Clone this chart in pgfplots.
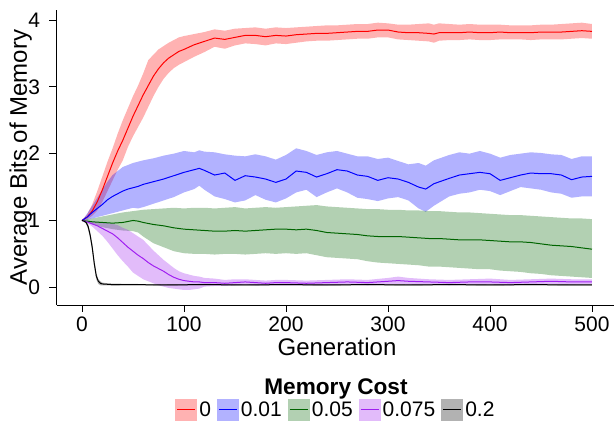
\documentclass[border=0pt]{standalone}
\usepackage{fontspec}
\setmainfont{Liberation Sans}
\usepackage{pgfplots}
\usepackage{pgfplotstable}
\pgfplotsset{compat=1.18}
\usepgfplotslibrary{fillbetween}

\definecolor{cRed}{RGB}{255,0,0}
\definecolor{cBlue}{RGB}{0,0,255}
\definecolor{cGreen}{RGB}{0,100,0}
\definecolor{cPurple}{RGB}{160,32,240}

% memory cost 0
\pgfplotstableread{
x m u l
0 1.00 1.00 1.00
5 1.05 1.09 1.02
10 1.14 1.24 1.07
15 1.28 1.44 1.15
20 1.46 1.66 1.28
25 1.66 1.88 1.44
30 1.86 2.08 1.60
35 2.04 2.30 1.76
40 2.20 2.50 1.90
45 2.38 2.68 2.10
50 2.56 2.86 2.26
55 2.72 3.02 2.40
60 2.88 3.20 2.54
65 3.02 3.40 2.70
70 3.16 3.48 2.86
75 3.27 3.56 3.00
80 3.36 3.61 3.12
85 3.43 3.66 3.21
90 3.48 3.70 3.28
95 3.53 3.74 3.33
100 3.56 3.76 3.37
110 3.63 3.79 3.45
120 3.68 3.82 3.52
130 3.73 3.86 3.60
140 3.71 3.84 3.57
150 3.74 3.87 3.62
160 3.77 3.88 3.65
170 3.77 3.89 3.64
180 3.75 3.87 3.62
190 3.77 3.89 3.65
200 3.76 3.88 3.64
210 3.78 3.89 3.66
220 3.79 3.90 3.68
230 3.80 3.91 3.69
240 3.80 3.92 3.69
250 3.81 3.92 3.70
260 3.82 3.93 3.71
270 3.83 3.94 3.72
280 3.83 3.94 3.72
290 3.85 3.96 3.74
300 3.85 3.95 3.74
310 3.82 3.93 3.71
320 3.81 3.93 3.70
330 3.81 3.94 3.69
340 3.80 3.95 3.68
345 3.79 3.93 3.66
350 3.81 3.95 3.69
360 3.81 3.94 3.70
370 3.81 3.93 3.70
380 3.82 3.94 3.71
390 3.81 3.93 3.70
400 3.81 3.93 3.70
410 3.82 3.93 3.71
420 3.81 3.92 3.71
430 3.81 3.92 3.71
440 3.81 3.92 3.70
450 3.82 3.93 3.71
460 3.82 3.93 3.71
470 3.82 3.94 3.71
480 3.83 3.95 3.72
490 3.84 3.96 3.73
500 3.83 3.94 3.72
}\tA

% memory cost 0.01
\pgfplotstableread{
x m u l
0 1.00 1.00 1.00
5 1.05 1.10 1.01
10 1.12 1.22 1.03
15 1.18 1.34 1.05
20 1.24 1.46 1.07
25 1.31 1.58 1.09
30 1.36 1.68 1.11
35 1.40 1.74 1.13
40 1.44 1.80 1.15
45 1.47 1.83 1.17
50 1.49 1.86 1.19
55 1.51 1.88 1.18
60 1.54 1.90 1.20
70 1.58 1.93 1.25
80 1.62 1.97 1.30
90 1.67 2.00 1.35
100 1.72 2.04 1.42
110 1.76 2.02 1.47
115 1.78 2.05 1.52
120 1.75 2.03 1.46
130 1.68 2.02 1.36
140 1.71 1.99 1.32
150 1.60 1.97 1.27
160 1.67 1.96 1.30
170 1.65 1.99 1.38
180 1.62 1.96 1.31
190 1.57 1.91 1.27
200 1.62 1.98 1.33
210 1.74 2.08 1.42
220 1.72 2.04 1.46
230 1.65 1.98 1.35
240 1.70 2.02 1.42
250 1.76 2.04 1.48
260 1.74 2.00 1.42
270 1.68 1.96 1.34
280 1.66 1.96 1.32
290 1.60 1.92 1.29
300 1.64 1.94 1.33
310 1.62 1.89 1.35
320 1.57 1.84 1.30
330 1.50 1.86 1.18
337 1.47 1.82 1.13
345 1.55 1.90 1.22
360 1.63 1.98 1.36
370 1.68 2.02 1.40
380 1.70 2.00 1.42
390 1.72 2.04 1.46
400 1.70 2.00 1.44
410 1.60 1.94 1.38
420 1.64 1.98 1.44
430 1.68 2.00 1.50
440 1.71 2.02 1.48
450 1.70 2.01 1.46
460 1.70 1.99 1.42
470 1.68 1.98 1.40
480 1.61 1.92 1.34
490 1.65 1.96 1.36
500 1.66 1.96 1.36
}\tB

% memory cost 0.05
\pgfplotstableread{
x m u l
0 1.00 1.00 1.00
5 0.99 1.02 0.97
10 0.98 1.03 0.94
20 0.97 1.06 0.90
30 0.96 1.09 0.87
40 0.97 1.12 0.85
50 1.00 1.14 0.84
55 0.99 1.15 0.82
60 0.97 1.16 0.76
70 0.94 1.17 0.66
80 0.92 1.18 0.60
90 0.89 1.19 0.54
100 0.87 1.18 0.51
110 0.86 1.19 0.50
120 0.85 1.19 0.50
130 0.84 1.18 0.49
140 0.84 1.19 0.50
150 0.85 1.20 0.50
160 0.84 1.18 0.49
170 0.85 1.19 0.50
180 0.86 1.20 0.51
190 0.87 1.19 0.50
200 0.87 1.20 0.51
210 0.86 1.21 0.50
220 0.87 1.22 0.51
230 0.85 1.23 0.48
240 0.82 1.21 0.45
250 0.81 1.20 0.44
260 0.80 1.19 0.43
270 0.79 1.18 0.42
280 0.77 1.17 0.39
290 0.76 1.17 0.37
300 0.76 1.16 0.36
310 0.76 1.16 0.35
320 0.75 1.15 0.34
330 0.74 1.15 0.33
340 0.73 1.14 0.31
350 0.73 1.14 0.31
360 0.72 1.13 0.30
370 0.71 1.12 0.29
380 0.71 1.12 0.28
390 0.71 1.11 0.27
400 0.70 1.10 0.27
410 0.69 1.09 0.25
420 0.68 1.08 0.24
430 0.68 1.08 0.23
440 0.67 1.07 0.21
450 0.65 1.06 0.20
460 0.63 1.05 0.18
470 0.62 1.04 0.17
480 0.61 1.03 0.16
490 0.59 1.03 0.15
500 0.57 1.02 0.14
}\tC

% memory cost 0.075
\pgfplotstableread{
x m u l
0 1.00 1.00 1.00
5 0.98 1.00 0.96
10 0.95 0.99 0.91
15 0.92 0.98 0.84
20 0.88 0.97 0.77
25 0.84 0.96 0.68
30 0.80 0.95 0.58
35 0.74 0.93 0.48
40 0.67 0.89 0.39
45 0.60 0.86 0.31
50 0.54 0.81 0.22
55 0.48 0.76 0.17
60 0.43 0.71 0.12
65 0.37 0.63 0.09
70 0.32 0.55 0.06
75 0.28 0.48 0.03
80 0.24 0.41 0.01
85 0.19 0.35 -0.01
90 0.15 0.29 -0.02
95 0.12 0.24 -0.03
100 0.10 0.21 -0.04
105 0.09 0.19 -0.04
110 0.08 0.17 -0.03
115 0.08 0.16 -0.02
120 0.07 0.14 0.01
130 0.07 0.13 0.02
140 0.06 0.11 0.02
150 0.07 0.12 0.03
160 0.08 0.12 0.04
170 0.07 0.11 0.03
180 0.06 0.10 0.03
190 0.07 0.11 0.03
200 0.07 0.11 0.03
220 0.06 0.10 0.03
240 0.07 0.11 0.03
260 0.08 0.12 0.04
280 0.07 0.11 0.03
300 0.09 0.14 0.04
310 0.10 0.16 0.05
320 0.09 0.14 0.04
340 0.08 0.12 0.04
360 0.07 0.11 0.03
380 0.08 0.12 0.04
400 0.08 0.13 0.04
420 0.07 0.11 0.03
440 0.08 0.12 0.04
460 0.09 0.13 0.05
480 0.08 0.12 0.04
500 0.08 0.12 0.05
}\tD

% memory cost 0.2
\pgfplotstableread{
x m u l
0 1.00 1.00 1.00
2 0.99 1.00 0.98
4 0.97 0.99 0.95
6 0.91 0.95 0.87
8 0.78 0.83 0.73
10 0.60 0.66 0.54
12 0.36 0.42 0.30
14 0.17 0.22 0.12
16 0.09 0.12 0.05
18 0.06 0.09 0.03
20 0.05 0.07 0.03
25 0.045 0.06 0.03
30 0.04 0.055 0.025
50 0.04 0.05 0.03
80 0.035 0.045 0.025
120 0.04 0.05 0.03
160 0.035 0.045 0.025
200 0.04 0.05 0.03
240 0.035 0.045 0.025
280 0.04 0.05 0.03
320 0.035 0.045 0.025
360 0.04 0.05 0.03
400 0.035 0.045 0.025
440 0.04 0.05 0.03
480 0.035 0.045 0.025
500 0.035 0.045 0.025
}\tE

\begin{document}
\begin{tikzpicture}
\begin{axis}[
  name=ax, at={(56.5pt,117pt)}, anchor=south west,
  width=561pt, height=295pt, scale only axis,
  xmin=-25, xmax=525, ymin=-0.265, ymax=4.15,
  xtick={0,100,...,500}, ytick={0,1,2,3,4},
  axis lines*=left, axis line style={line width=0.9pt},
  tick align=outside, major tick length=7pt,
  tick style={line width=0.9pt, black},
  /pgf/number format/assume math mode=true,
  ticklabel style={font=\fontsize{21}{25}\selectfont},
  xticklabel style={anchor=north, yshift=-1pt},
  yticklabel style={anchor=east, xshift=-6pt},
  label style={font=\fontsize{24}{29}\selectfont},
  xlabel={Generation}, ylabel={Average Bits of Memory},
  xlabel style={at={(axis description cs:0.5,-0.11)}, anchor=north, inner sep=0pt},
  ylabel style={at={(axis description cs:-0.064,0.5)}, anchor=center, inner sep=0pt},
  legend columns=5,
  legend style={at={(axis description cs:0.498,-0.355)}, anchor=center, draw=none,
    font=\fontsize{21}{25}\selectfont, inner sep=0pt,
    /tikz/every even column/.append style={column sep=4pt},
    nodes={inner xsep=2pt, inner ysep=0pt}},
  legend image code/.code={
    \fill[#1, fill opacity=0.3, draw=none] (0pt,-11pt) rectangle (22pt,11pt);
    \draw[#1] (2pt,0pt) -- (20pt,0pt);},
  every axis plot/.append style={line width=1pt},
]
% ribbons
\addplot[draw=none, name path=aU, forget plot] table[x=x,y=u] {\tA};
\addplot[draw=none, name path=aL, forget plot] table[x=x,y=l] {\tA};
\addplot[fill=cRed, fill opacity=0.3, draw=none, forget plot] fill between[of=aU and aL];
\addplot[draw=none, name path=bU, forget plot] table[x=x,y=u] {\tB};
\addplot[draw=none, name path=bL, forget plot] table[x=x,y=l] {\tB};
\addplot[fill=cBlue, fill opacity=0.3, draw=none, forget plot] fill between[of=bU and bL];
\addplot[draw=none, name path=cU, forget plot] table[x=x,y=u] {\tC};
\addplot[draw=none, name path=cL, forget plot] table[x=x,y=l] {\tC};
\addplot[fill=cGreen, fill opacity=0.3, draw=none, forget plot] fill between[of=cU and cL];
\addplot[draw=none, name path=dU, forget plot] table[x=x,y=u] {\tD};
\addplot[draw=none, name path=dL, forget plot] table[x=x,y=l] {\tD};
\addplot[fill=cPurple, fill opacity=0.3, draw=none, forget plot] fill between[of=dU and dL];
\addplot[draw=none, name path=eU, forget plot] table[x=x,y=u] {\tE};
\addplot[draw=none, name path=eL, forget plot] table[x=x,y=l] {\tE};
\addplot[fill=black, fill opacity=0.3, draw=none, forget plot] fill between[of=eU and eL];
% means
\addplot[color=cRed, mark=none] table[x=x,y=m] {\tA};
\addplot[color=cBlue, mark=none] table[x=x,y=m] {\tB};
\addplot[color=cGreen, mark=none] table[x=x,y=m] {\tC};
\addplot[color=cPurple, mark=none] table[x=x,y=m] {\tD};
\addplot[color=black, mark=none] table[x=x,y=m] {\tE};
\legend{0,0.01,0.05,0.075,0.2}
\end{axis}
\node[font=\fontsize{22.6}{27}\selectfont\bfseries] at (336pt,33pt) {Memory Cost};
\pgfresetboundingbox
\path[use as bounding box] (0,0) rectangle (614pt,422pt);
\end{tikzpicture}
\end{document}
